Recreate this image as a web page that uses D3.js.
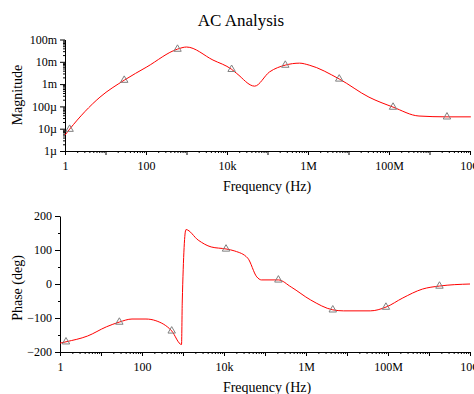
<!DOCTYPE html>
<html>
<head>
<meta charset="utf-8">
<script src="https://cdn.jsdelivr.net/npm/d3@7"></script>
<style>
	body { margin: 0; background: #fff; }
	svg { display: block; }
	svg text { font-family: "Liberation Serif", "DejaVu Serif", serif; }
</style>
</head>
<body>
<svg id="chart" width="474" height="394"></svg>
<script>
'use strict';

// magnitude curve (Hz, V)
var magFreq = [1, 1.3, 7.3, 29, 105, 600, 1000, 4500, 13000, 17400, 48000, 112000, 275000, 620000, 1.07e6, 5.9e6, 3.2e7, 1.26e8, 5.5e8, 2.7e9, 1.05e10];
var magValue = [5.2e-6, 9.5e-6, 2.6e-4, 1.5e-3, 5.9e-3, 3.7e-2, 4.6e-2, 1.2e-2, 4.6e-3, 3.0e-3, 8.1e-4, 3.5e-3, 7.1e-3, 8.7e-3, 7.1e-3, 1.7e-3, 2.6e-4, 9.3e-5, 3.7e-5, 3.4e-5, 3.4e-5];
var magMarkFreq = [1.3, 29, 600, 13000, 275000, 5.9e6, 1.26e8, 2.7e9];
var magMarkValue = [9.5e-6, 1.5e-3, 3.7e-2, 4.6e-3, 7.1e-3, 1.7e-3, 9.3e-5, 3.4e-5];

// phase curve (Hz, deg)
var phFreq = [1, 1.4, 4.7, 13.5, 28, 57, 125, 218, 530, 920, 960, 1180, 2350, 4870, 11200, 18400, 38000, 63000, 82000, 212000, 436000, 1.3e6, 4.5e6, 8.2e6, 3.7e7, 8.9e7, 2.3e8, 6.9e8, 1.8e9, 1.0e10];
var phValue = [-174, -170, -153, -126, -112, -103, -103, -108, -138, -178, -50, 160, 129, 109, 103, 97, 76, 21, 12, 12, -9, -47, -76, -79, -79, -68, -41, -15, -6, 0];
var phMarkFreq = [1.4, 28, 530, 11200, 212000, 4.5e6, 8.9e7, 1.8e9];
var phMarkValue = [-170, -112, -138, 103, 12, -76, -68, -6];

var freqTicks = [1, 1e2, 1e4, 1e6, 1e8, 1e10];
var freqTickLabels = ['1', '100', '10k', '1M', '100M', '10G'];
var magTicks = [1e-1, 1e-2, 1e-3, 1e-4, 1e-5, 1e-6];
var magTickLabels = ['100m', '10m', '1m', '100\u00b5', '10\u00b5', '1\u00b5'];
var phTicks = [200, 100, 0, -100, -200];

var svg = d3.select('#chart');

svg.append('text').attr('x', 241).attr('y', 26)
	.attr('text-anchor', 'middle').attr('font-size', 17).text('AC Analysis');

function zip(a, b) {
	return a.map(function(d, i) { return [d, b[i]]; });
}

// d3 axes put a sans-serif font on their group, undo that
function serif(s) {
	s.attr('font-family', '"Liberation Serif", serif').attr('font-size', 12);
}

function drawPlot(opts) {
	var x = d3.scaleLog().domain([1, 1e10]).range([opts.left, opts.right]);
	var y = opts.y;
	var g = svg.append('g');

	// x axis: minor ticks, decade ticks, labels
	var minor = [];
	for (var e = 0; e < 10; e++) {
		for (var k = 2; k < 10; k++) minor.push(k * Math.pow(10, e));
	}
	var xa = d3.axisBottom(x).tickValues(minor).tickSize(2).tickFormat('');
	g.append('g').attr('transform', 'translate(0,' + opts.bottom + ')').call(xa)
		.call(function(s) { s.select('.domain').remove(); });
	var decades = d3.range(0, 11).map(function(d) { return Math.pow(10, d); });
	var xb = d3.axisBottom(x).tickValues(decades).tickSize(4).tickFormat(function(d) {
		var i = freqTicks.indexOf(d);
		return i < 0 ? '' : freqTickLabels[i];
	}).tickSizeOuter(0).tickPadding(6);
	g.append('g').attr('transform', 'translate(0,' + opts.bottom + ')').call(xb).call(serif);

	// y axis
	var ya = d3.axisLeft(y).tickValues(opts.yTicks).tickSize(5).tickSizeOuter(0)
		.tickFormat(opts.yFormat).tickPadding(3);
	g.append('g').attr('transform', 'translate(' + opts.left + ',0)').call(ya).call(serif);
	var ym = d3.axisLeft(y).tickValues(opts.yMinor).tickSize(2).tickFormat('');
	g.append('g').attr('transform', 'translate(' + opts.left + ',0)').call(ym)
		.call(function(s) { s.select('.domain').remove(); });

	// curve
	var line = d3.line()
		.x(function(d) { return x(d[0]); })
		.y(function(d) { return y(d[1]); })
		.curve(d3.curveMonotoneX);
	g.append('path').datum(opts.data).attr('d', line)
		.attr('fill', 'none').attr('stroke', '#ff0000').attr('stroke-width', 1);

	// markers
	g.selectAll('path.mark').data(opts.marks).enter().append('path')
		.attr('class', 'mark')
		.attr('d', d3.symbol().type(d3.symbolTriangle).size(24))
		.attr('transform', function(d) { return 'translate(' + x(d[0]) + ',' + y(d[1]) + ')'; })
		.attr('fill', 'none').attr('stroke', '#808080').attr('stroke-width', 1);

	// axis titles
	svg.append('text').attr('x', 267).attr('y', opts.bottom + 40)
		.attr('text-anchor', 'middle').attr('font-size', 14).text('Frequency (Hz)');
	svg.append('text')
		.attr('transform', 'translate(' + opts.labelX + ',' + opts.labelY + ') rotate(-90)')
		.attr('text-anchor', 'middle').attr('font-size', 14).text(opts.yLabel);
}

var magMinor = [];
for (var e = -6; e < -1; e++) {
	for (var k = 2; k < 10; k++) magMinor.push(k * Math.pow(10, e));
}

drawPlot({
	left: 65, right: 470, bottom: 151,
	y: d3.scaleLog().domain([1e-6, 1e-1]).range([151, 39.5]),
	yTicks: magTicks,
	yFormat: function(d) { return magTickLabels[magTicks.indexOf(d)]; },
	yMinor: magMinor,
	data: zip(magFreq, magValue),
	marks: zip(magMarkFreq, magMarkValue),
	yLabel: 'Magnitude', labelX: 22, labelY: 95
});

drawPlot({
	left: 60, right: 470, bottom: 352,
	y: d3.scaleLinear().domain([-200, 200]).range([352, 216]),
	yTicks: phTicks,
	yFormat: d3.format('d'),
	yMinor: [150, 50, -50, -150],
	data: zip(phFreq, phValue),
	marks: zip(phMarkFreq, phMarkValue),
	yLabel: 'Phase (deg)', labelX: 22, labelY: 288
});
</script>
</body>
</html>
